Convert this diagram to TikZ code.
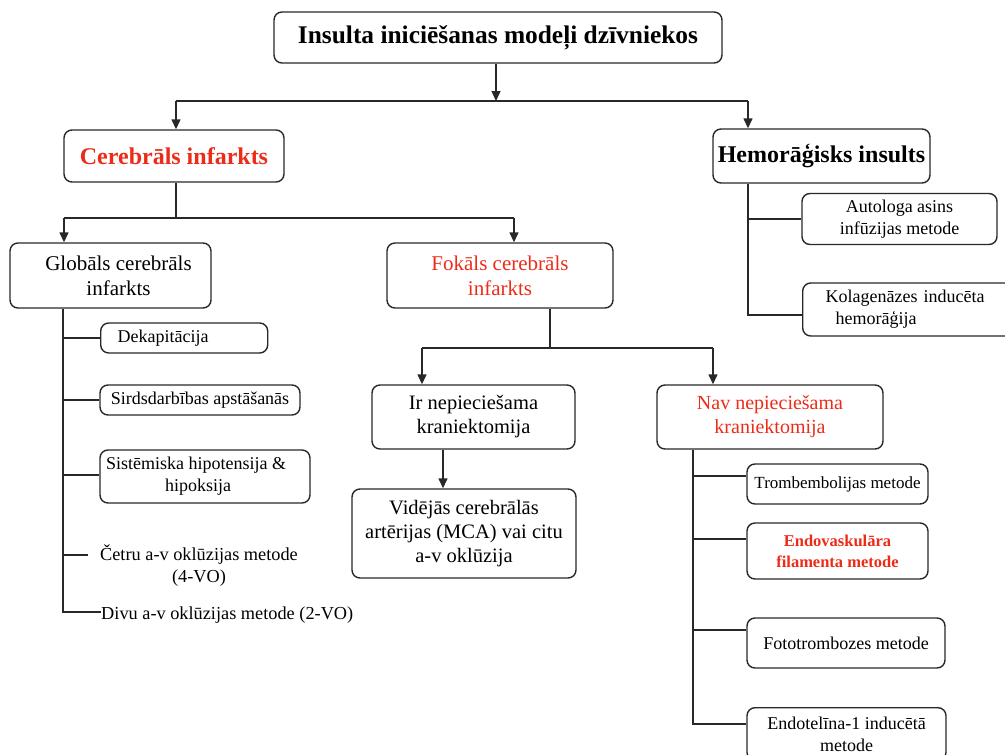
\documentclass[tikz,border=0pt]{standalone}
\usepackage{fontspec}
\setmainfont{Liberation Serif}
\usetikzlibrary{arrows.meta}
\definecolor{redtxt}{RGB}{236,44,24}
\definecolor{ln}{RGB}{40,40,40}
\tikzset{
  box/.style={draw=ln, line width=1.4pt, rounded corners=8pt, align=center, inner sep=0pt},
  plain/.style={align=center, inner sep=0pt},
  conn/.style={draw=ln, line width=1.4pt},
  arr/.style={conn, -{Triangle[length=10pt,width=9pt]}},
  fT/.style={font=\fontsize{25.4}{28}\selectfont\bfseries},
  fA/.style={font=\fontsize{24}{28}\selectfont\bfseries},
  fB/.style={font=\fontsize{21}{25}\selectfont},
  fC/.style={font=\fontsize{20.5}{24}\selectfont},
  fD/.style={font=\fontsize{18}{22}\selectfont},
  fE/.style={font=\fontsize{18.3}{22}\selectfont},
}
\begin{document}
\begin{tikzpicture}[x=1pt,y=-1pt]
\useasboundingbox (0,0) rectangle (1005,755);
\clip (0,0) rectangle (1005,755);
% nodes
\node[box,fT,minimum width=448pt,minimum height=51pt] (title) at (498,37.5) {Insulta iniciēšanas modeļi dzīvniekos};
\node[box,fA,text=redtxt,minimum width=220pt,minimum height=52pt] (cer) at (174,156) {Cerebrāls infarkts};
\node[box,fA,minimum width=217pt,minimum height=54pt] (hem) at (821.5,156) {Hemorāģisks insults};
\node[box,fB,minimum width=201pt,minimum height=65pt] (glob) at (110.5,275.5) {\hspace*{16pt}Globāls cerebrāls\\\hspace*{16pt}infarkts};
\node[box,fB,text=redtxt,minimum width=226pt,minimum height=65pt] (fok) at (500,275.5) {Fokāls cerebrāls\\infarkts};
\node[box,fD,minimum width=195pt,minimum height=51pt] (aut) at (899.5,219) {Autologa asins\\infūzijas metode};
\node[box,fD,anchor=west,minimum height=53pt,text width=185pt,inner xsep=23pt,align=left] (kol) at (802,309.5) {Kolagenāzes inducēta\\\hspace*{10pt}hemorāģija};
\node[box,fD,anchor=west,minimum height=30pt,text width=133pt,inner xsep=17pt,align=left] (dek) at (100,338) {Dekapitācija};
\node[box,fD,minimum width=200pt,minimum height=30pt] (sird) at (200,400) {Sirdsdarbības apstāšanās};
\node[box,fD,minimum width=210pt,minimum height=53pt] (sist) at (205,476.5) {Sistēmiska hipotensija \&\hspace*{18pt}\\hipoksija\hspace*{14pt}};
\node[plain,fE] (cetru) at (199,566) {Četru a-v oklūzijas metode\\(4-VO)};
\node[plain,fE,anchor=west] (divu) at (101,615) {Divu a-v oklūzijas metode (2-VO)};
\node[box,fC,minimum width=203pt,minimum height=64pt] (ir) at (473.5,417) {Ir nepieciešama\\kraniektomija};
\node[box,fC,minimum width=224pt,minimum height=89pt] (vid) at (464,533.5) {Vidējās cerebrālās\\artērijas (MCA) vai citu\\a-v oklūzija};
\node[box,font=\fontsize{20}{24}\selectfont,text=redtxt,minimum width=226pt,minimum height=64pt] (nav) at (770,417) {Nav nepieciešama\\kraniektomija};
\node[box,font=\fontsize{17}{22}\selectfont,minimum width=181pt,minimum height=40pt] (trom) at (837.5,484) {Trombembolijas metode};
\node[box,text=redtxt,font=\fontsize{16.5}{21}\selectfont\bfseries,minimum width=181pt,minimum height=56pt] (endo) at (837.5,551) {Endovaskulāra\\filamenta metode};
\node[box,fD,minimum width=198pt,minimum height=50pt] (foto) at (846,643) {Fototrombozes metode};
\node[box,fD,anchor=north,minimum width=199pt,inner ysep=9pt] (endt) at (846.5,707) {Endotelīna-1 inducētā\\metode};
% junction coordinates
\coordinate (jt) at (496,101);
\coordinate (jl) at (176,101);
\coordinate (jr) at (748,101);
\coordinate (cj) at (176,218);
\coordinate (cl) at (64,218);
\coordinate (cr) at (514,218);
\coordinate (gv) at (63,612);
\coordinate (c4) at (88,555);
\coordinate (s4) at (63,475);
\coordinate (hv) at (748,315);
\coordinate (fj) at (550,348);
\coordinate (fl) at (422,348);
\coordinate (fr) at (713,348);
\coordinate (nv) at (693,724);
\coordinate (ik) at (443,0);
% connectors
\draw[arr] (jt |- title.south) -- (jt);
\draw[conn] (jl) -- (jr);
\draw[arr] (jl) -- (jl |- cer.north);
\draw[arr] (jr) -- (jr |- hem.north);
\draw[conn] (cj |- cer.south) -- (cj);
\draw[conn] (cl) -- (cr);
\draw[arr] (cl) -- (cl |- glob.north);
\draw[arr] (cr) -- (cr |- fok.north);
% global branch
\draw[conn] (gv |- glob.south) -- (gv) -- (gv -| divu.west);
\draw[conn] (gv |- dek.west) -- (dek.west);
\draw[conn] (gv |- sird.west) -- (sird.west);
\draw[conn] (s4) -- (s4 -| sist.west);
\draw[conn] (gv |- c4) -- (c4);
% hemorrhagic branch
\draw[conn] (hv |- hem.south) -- (hv) -- (hv -| kol.west);
\draw[conn] (hv |- aut.west) -- (aut.west);
% focal branch
\draw[conn] (fj |- fok.south) -- (fj);
\draw[conn] (fl) -- (fr);
\draw[arr] (fl) -- (fl |- ir.north);
\draw[arr] (fr) -- (fr |- nav.north);
\draw[arr] (ik |- ir.south) -- (ik |- vid.north);
% nav branch
\draw[conn] (nv |- nav.south) -- (nv) -- (nv -| endt.west);
\draw[conn] (693,476) -- (693,476 -| trom.west);
\draw[conn] (693,539) -- (693,539 -| endo.west);
\draw[conn] (693,630) -- (693,630 -| foto.west);
\end{tikzpicture}
\end{document}
